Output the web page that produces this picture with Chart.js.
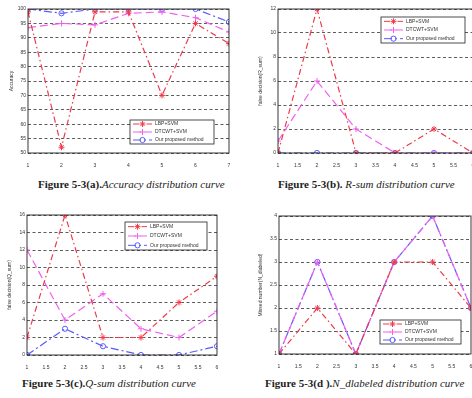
<!DOCTYPE html>
<html>
<head>
<meta charset="utf-8">
<script src="https://cdn.jsdelivr.net/npm/chart.js@4/dist/chart.umd.min.js"></script>
<style>
html, body { margin:0; padding:0; background:#fff; overflow:hidden; }
#page { position:relative; width:472px; height:398px; overflow:hidden; }
.panel { position:absolute; }
.cap { position:absolute; font-family:"Liberation Serif", "DejaVu Serif", serif; font-size:11px; color:#222; white-space:nowrap; }
.cap b { font-weight:bold; }
.cap i { font-style:italic; }
</style>
</head>
<body>
<div id="page">
  <div class="panel" style="left:0;top:0;width:236px;height:172px"><canvas id="chA"></canvas></div>
  <div class="panel" style="left:236px;top:0;width:242px;height:172px"><canvas id="chB"></canvas></div>
  <div class="panel" style="left:0;top:195px;width:236px;height:175px"><canvas id="chC"></canvas></div>
  <div class="panel" style="left:236px;top:195px;width:242px;height:175px"><canvas id="chD"></canvas></div>
  <div class="cap" style="left:38px;top:178px"><b>Figure 5-3(a).</b><i>Accuracy distribution curve</i></div>
  <div class="cap" style="left:278px;top:178px"><b>Figure 5-3(b). </b><i>R-sum distribution curve</i></div>
  <div class="cap" style="left:22px;top:377px"><b>Figure 5-3(c).</b><i>Q-sum distribution curve</i></div>
  <div class="cap" style="left:265px;top:377px"><b>Figure 5-3(d ).</b><i>N_dlabeled distribution curve</i></div>
</div>
<script>
"use strict"

var seriesNames = ["LBP+SVM", "DTCWT+SVM", "Our proposed method"];

// (a) accuracy
var xA = [1, 2, 3, 4, 5, 6, 7];
var lbpA = [99, 52, 99, 99, 70, 95, 88];
var dtcwtA = [93.5, 95, 94.5, 98.5, 99, 97, 92];
var oursA = [100, 98.5, 100, 100, 100, 100, 95.5];

// (b) R_sum
var xB = [1, 2, 3, 4, 5, 6];
var lbpB = [0, 12, 0, 0, 2, 0];
var dtcwtB = [1, 6, 2, 0, 0, 0];
var oursB = [0, 0, 0, 0, 0, 0];

// (c) Q_sum
var xC = [1, 2, 3, 4, 5, 6];
var lbpC = [2, 16, 2, 2, 6, 9];
var dtcwtC = [12, 4, 7, 3, 2, 5];
var oursC = [0, 3, 1, 0, 0, 1];

// (d) N_dlabeled
var xD = [1, 2, 3, 4, 5, 6];
var lbpD = [1, 2, 1, 3, 3, 2];
var dtcwtD = [1, 3, 1, 3, 4, 2];
var oursD = [1, 3, 1, 3, 4, 2];

var styles = [
    {color:"#f03a4a", dash:[6,3,1.5,3], point:"star"},
    {color:"#f060f0", dash:[8,4], point:"cross"},
    {color:"#5a5aff", dash:[8,3,2,3], point:"circle"}
];

function toPoints(xs, ys){
    var arr = [];
    for (var i in xs){
        arr.push({x: xs[i], y: ys[i]});
    }
    return arr;
}

function makeDatasets(xs, lists){
    var arr = [];
    for (var i in lists){
        var s = styles[i];
        arr.push({
            label: seriesNames[i],
            data: toPoints(xs, lists[i]),
            borderColor: s.color,
            backgroundColor: i == 0 ? s.color : "rgba(0,0,0,0)",
            borderWidth: 1.2,
            borderDash: s.dash,
            pointStyle: s.point,
            pointRadius: i == 2 ? 2.6 : 3,
            pointBorderColor: s.color,
            pointBorderWidth: 1,
            tension: 0
        });
    }
    return arr;
}

// plain number labels, no trailing .0
function plainTick(v){
    return String(Math.round(v * 100) / 100);
}

// black frame round the plot area
var framePlugin = {
    id: "frame",
    afterDraw: function(chart){
        var a = chart.chartArea, ctx = chart.ctx;
        ctx.save();
        ctx.strokeStyle = "#222";
        ctx.lineWidth = 0.9;
        ctx.strokeRect(a.left, a.top, a.right - a.left, a.bottom - a.top);
        ctx.restore();
    }
};

// matlab style legend box inside the plot
var boxLegend = {
    id: "boxLegend",
    afterDraw: function(chart, args, opts){
        var ctx = chart.ctx;
        var r = opts.rect;
        ctx.save();
        ctx.fillStyle = "#fff";
        ctx.fillRect(r[0], r[1], r[2], r[3]);
        ctx.strokeStyle = "#222";
        ctx.lineWidth = 0.8;
        ctx.strokeRect(r[0], r[1], r[2], r[3]);
        var rowH = r[3] / 3;
        var sets = chart.data.datasets;
        for (var i = 0; i < sets.length; i++){
            var ds = sets[i];
            var cy = r[1] + rowH * (i + 0.5);
            ctx.strokeStyle = ds.borderColor;
            ctx.lineWidth = 1;
            ctx.setLineDash(ds.borderDash);
            ctx.beginPath();
            ctx.moveTo(r[0] + 3, cy);
            ctx.lineTo(r[0] + 22, cy);
            ctx.stroke();
            ctx.setLineDash([]);
            ctx.fillStyle = ds.backgroundColor;
            Chart.helpers.drawPoint(ctx, {pointStyle: ds.pointStyle, radius: ds.pointRadius, rotation: 0, borderWidth: 1}, r[0] + 12.5, cy);
            ctx.fillStyle = "#333";
            ctx.font = "5px 'Liberation Sans', Arial, sans-serif";
            ctx.textBaseline = "middle";
            ctx.fillText(ds.label, r[0] + 25, cy);
        }
        ctx.restore();
    }
};

function makePanel(id, p){
    var tickFont = {family:"'Liberation Sans', Arial, sans-serif", size:5};
    return new Chart(document.getElementById(id), {
        type: "line",
        data: { datasets: p.datasets },
        options: {
            responsive: true,
            maintainAspectRatio: false,
            animation: false,
            layout: { padding: {left: p.padLeft, right: p.padRight, top: p.padTop, bottom: 0} },
            plugins: {
                legend: { display: false },
                tooltip: { enabled: false },
                boxLegend: { rect: p.legendRect }
            },
            scales: {
                x: {
                    type: "linear",
                    min: p.xMin, max: p.xMax,
                    grid: { display: false },
                    border: { display: false },
                    ticks: { stepSize: p.xStep, font: tickFont, color: "#333", padding: 2, maxRotation: 0, autoSkip: false, callback: plainTick },
                    afterFit: function(s){ s.height = p.xHeight; }
                },
                y: {
                    min: p.yMin, max: p.yMax,
                    grid: { color: "#333", lineWidth: 0.8, drawTicks: false },
                    border: { display: false, dash: [3, 2.5] },
                    ticks: { stepSize: p.yStep, font: tickFont, color: "#333", padding: 2, callback: plainTick },
                    title: { display: true, text: p.yTitle, font: tickFont, color: "#333", padding: 0 },
                    afterFit: function(s){ s.width = p.yWidth; }
                }
            }
        },
        plugins: [framePlugin, boxLegend]
    });
}

makePanel("chA", {
    datasets: makeDatasets(xA, [lbpA, dtcwtA, oursA]),
    xMin: 1, xMax: 7, xStep: 1, yMin: 50, yMax: 100, yStep: 5,
    yTitle: "Accuracy", padLeft: 9, yWidth: 19, padRight: 7, padTop: 9, xHeight: 19,
    legendRect: [130, 120, 84, 24]
});

makePanel("chB", {
    datasets: makeDatasets(xB, [lbpB, dtcwtB, oursB]),
    xMin: 1, xMax: 6, xStep: 0.5, yMin: 0, yMax: 12, yStep: 2,
    yTitle: "false decision(R_sum)", padLeft: 22, yWidth: 20, padRight: 5, padTop: 9, xHeight: 19,
    legendRect: [145, 17, 84, 26]
});

makePanel("chC", {
    datasets: makeDatasets(xC, [lbpC, dtcwtC, oursC]),
    xMin: 1, xMax: 6, xStep: 0.5, yMin: 0, yMax: 16, yStep: 2,
    yTitle: "false decision(Q_sum)", padLeft: 7, yWidth: 20, padRight: 19, padTop: 20, xHeight: 15,
    legendRect: [125, 27, 82, 28]
});

makePanel("chD", {
    datasets: makeDatasets(xD, [lbpD, dtcwtD, oursD]),
    xMin: 1, xMax: 6, xStep: 0.5, yMin: 1, yMax: 4, yStep: 0.5,
    yTitle: "Missed number(N_dlabeled)", padLeft: 22, yWidth: 21, padRight: 7, padTop: 21, xHeight: 16,
    legendRect: [144, 125, 81, 24]
});
</script>
</body>
</html>
